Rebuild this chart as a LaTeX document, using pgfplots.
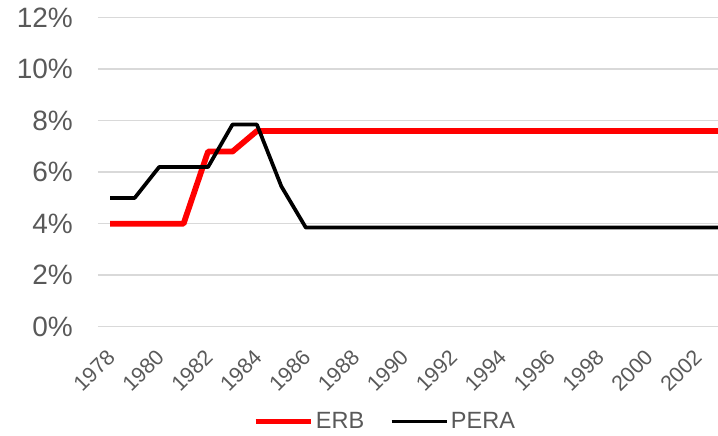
\documentclass[border=0pt]{standalone}
\usepackage{pgfplots}
\pgfplotsset{compat=1.18}
\usepackage{fontspec}
\setmainfont{Liberation Sans}
\definecolor{txt}{HTML}{595959}
\definecolor{gridc}{HTML}{D9D9D9}
\definecolor{erb}{HTML}{FF0000}
\begin{document}
\begin{tikzpicture}
\begin{axis}[
  at={(98bp,109.3bp)}, anchor=south west,
  scale only axis, width=620bp, height=309bp,
  xmin=1977.5, xmax=2002.86, ymin=0, ymax=12,
  axis line style={draw=none},
  major tick length=0pt, tick style={draw=none},
  ymajorgrids, grid style={gridc, line width=1.5bp},
  ytick={0,2,4,6,8,10,12},
  yticklabels={0\%,2\%,4\%,6\%,8\%,10\%,12\%},
  xtick={1978,1980,1982,1984,1986,1988,1990,1992,1994,1996,1998,2000,2002},
  xticklabels={1978,1980,1982,1984,1986,1988,1990,1992,1994,1996,1998,2000,2002},
  yticklabel style={font=\fontsize{28bp}{30bp}\selectfont, text=txt, anchor=east, inner sep=0pt, xshift=-25bp},
  xticklabel style={font=\fontsize{21.5bp}{24bp}\selectfont, text=txt, yshift=-27bp, xshift=1bp, rotate=45, anchor=east, inner sep=0pt},
  legend columns=2,
  legend style={at={(0.463,-0.307)}, anchor=center, draw=none, fill=none,
    font=\fontsize{23.5bp}{26bp}\selectfont, text=txt, inner sep=0pt,
    nodes={inner sep=2.5bp}},
  legend image code/.code={\draw[#1] (0bp,0bp) -- (55bp,0bp);},
]
\addplot[erb, line width=5.75bp, line join=round] coordinates {
(1978,4) (1979,4) (1980,4) (1981,4) (1982,6.8) (1983,6.8) (1984,7.6) (1985,7.6)
(1986,7.6) (1987,7.6) (1988,7.6) (1989,7.6) (1990,7.6) (1991,7.6) (1992,7.6)
(1993,7.6) (1994,7.6) (1995,7.6) (1996,7.6) (1997,7.6) (1998,7.6) (1999,7.6)
(2000,7.6) (2001,7.6) (2002,7.6) (2003,7.6)};
\addlegendentry{ERB\rule{23bp}{0pt}}
\addplot[black, line width=3.75bp, line join=round] coordinates {
(1978,5) (1979,5) (1980,6.2) (1981,6.2) (1982,6.2) (1983,7.85) (1984,7.85) (1985,5.45)
(1986,3.85) (1987,3.85) (1988,3.85) (1989,3.85) (1990,3.85) (1991,3.85) (1992,3.85)
(1993,3.85) (1994,3.85) (1995,3.85) (1996,3.85) (1997,3.85) (1998,3.85) (1999,3.85)
(2000,3.85) (2001,3.85) (2002,3.85) (2003,3.85)};
\addlegendentry{PERA}
\end{axis}
\pgfresetboundingbox
\path (0,0) rectangle (718bp,436bp);
\end{tikzpicture}
\end{document}
